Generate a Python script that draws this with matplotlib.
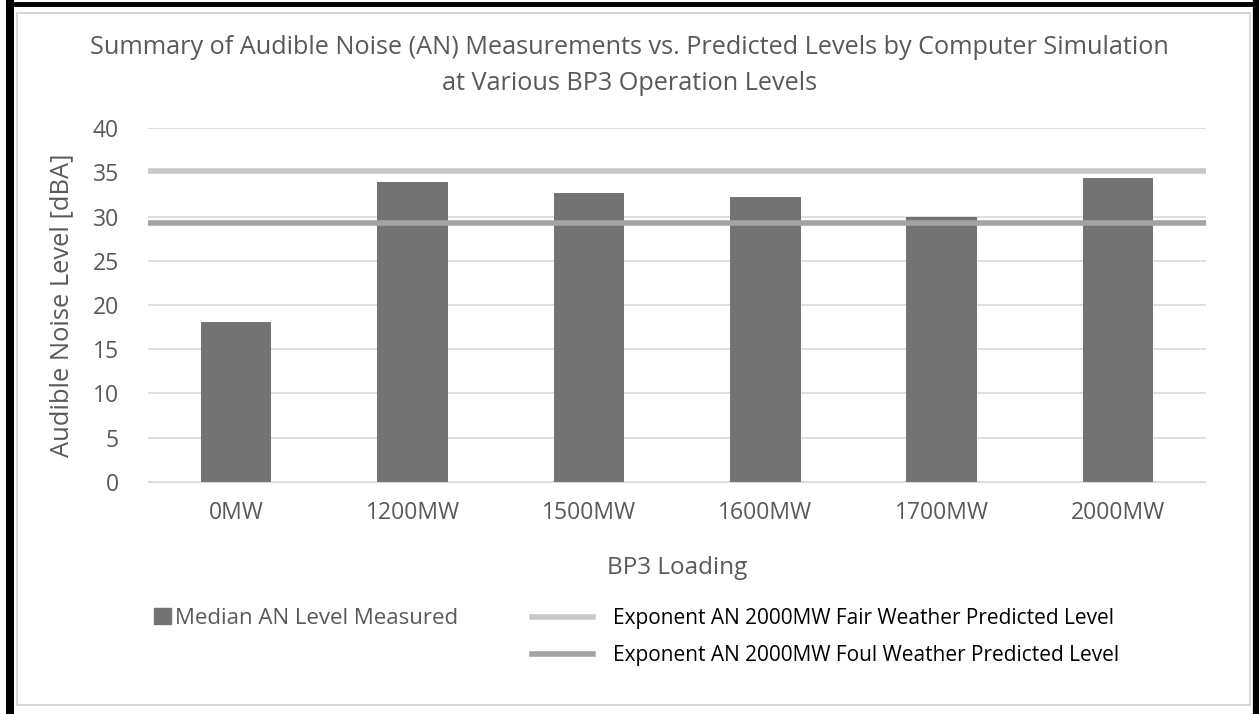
import matplotlib.pyplot as plt
from matplotlib.patches import Rectangle, Patch
from matplotlib.lines import Line2D

# Data
loadings = ['0MW', '1200MW', '1500MW', '1600MW', '1700MW', '2000MW']
median_an = [18.1, 33.9, 32.7, 32.2, 30.0, 34.4]
fair_pred = 35.1
foul_pred = 29.3

plt.rcParams['font.family'] = ['Open Sans', 'DejaVu Sans']

W, H = 1259, 714
fig = plt.figure(figsize=(W / 100, H / 100), dpi=100)
ax = fig.add_axes([0.1176, 0.325, 0.8404, 0.4957])

x = range(len(loadings))
ax.bar(x, median_an, width=0.4, color='#737373', zorder=2)
ax.axhline(fair_pred, color='#c8c8c8', lw=4, zorder=3)
ax.axhline(foul_pred, color='#a3a3a3', lw=4, zorder=3)

ax.set_xlim(-0.5, len(loadings) - 0.5)
ax.set_ylim(0, 40)
ax.set_yticks(range(0, 41, 5))
ax.set_xticks(list(x))
ax.set_xticklabels(loadings)
ax.grid(axis='y', color='#d9d9d9', lw=1.2, zorder=0)
ax.set_axisbelow(True)
for s in ['top', 'right', 'left']:
    ax.spines[s].set_visible(False)
ax.spines['bottom'].set_color('#d9d9d9')
ax.tick_params(length=0, colors='#595959')
ax.tick_params(axis='x', pad=14, labelsize=16.5)
ax.tick_params(axis='y', pad=21, labelsize=16.5)
ax.set_ylabel('Audible Noise Level [dBA]', fontsize=18.4, color='#595959', labelpad=13)
ax.set_xlabel('BP3 Loading', fontsize=17.5, color='#595959', labelpad=22)

fig.text(0.5, 1 - 47 / H, 'Summary of Audible Noise (AN) Measurements vs. Predicted Levels by Computer Simulation',
         ha='center', va='center', fontsize=18.2, color='#595959')
fig.text(0.5, 1 - 83 / H, 'at Various BP3 Operation Levels',
         ha='center', va='center', fontsize=18.2, color='#595959')

# legend: measured series on the left, predicted levels on the right
leg1 = fig.legend([Patch(color='#737373')], ['Median AN Level Measured'],
                  loc='center left', bbox_to_anchor=(154 / W, 1 - 618 / H), frameon=False,
                  fontsize=16, handlelength=0.77, handleheight=0.75, handletextpad=0.18,
                  borderpad=0, borderaxespad=0, labelcolor='#595959')
pred_handles = [Line2D([], [], color='#c8c8c8', lw=4), Line2D([], [], color='#a3a3a3', lw=4)]
pred_labels = ['Exponent AN 2000MW Fair Weather Predicted Level',
               'Exponent AN 2000MW Foul Weather Predicted Level']
leg2 = fig.legend(pred_handles, pred_labels, loc='center left',
                  bbox_to_anchor=(532 / W, 1 - 637 / H), frameon=False, fontsize=15,
                  handlelength=2.93, handletextpad=0.96, labelspacing=0.78,
                  borderpad=0, borderaxespad=0, labelcolor='black')

# borders: thin grey chart frame and thick black outer frame (open at the bottom)
fig.patches.append(Rectangle((17 / W, 1 - 705 / H), (1250 - 17) / W, (705 - 13) / H,
                             transform=fig.transFigure, fill=False, ec='#d0d0d0', lw=1.2))
black = dict(color='black', transform=fig.transFigure, solid_capstyle='butt')
fig.add_artist(Line2D([10 / W, 10 / W], [0, 1], lw=5.8, **black))
fig.add_artist(Line2D([6 / W, 1], [1 - 4 / H, 1 - 4 / H], lw=3.5, **black))
fig.add_artist(Line2D([1 - 3 / W, 1 - 3 / W], [0, 1], lw=4.5, **black))

fig.savefig('out.png', dpi=100)
